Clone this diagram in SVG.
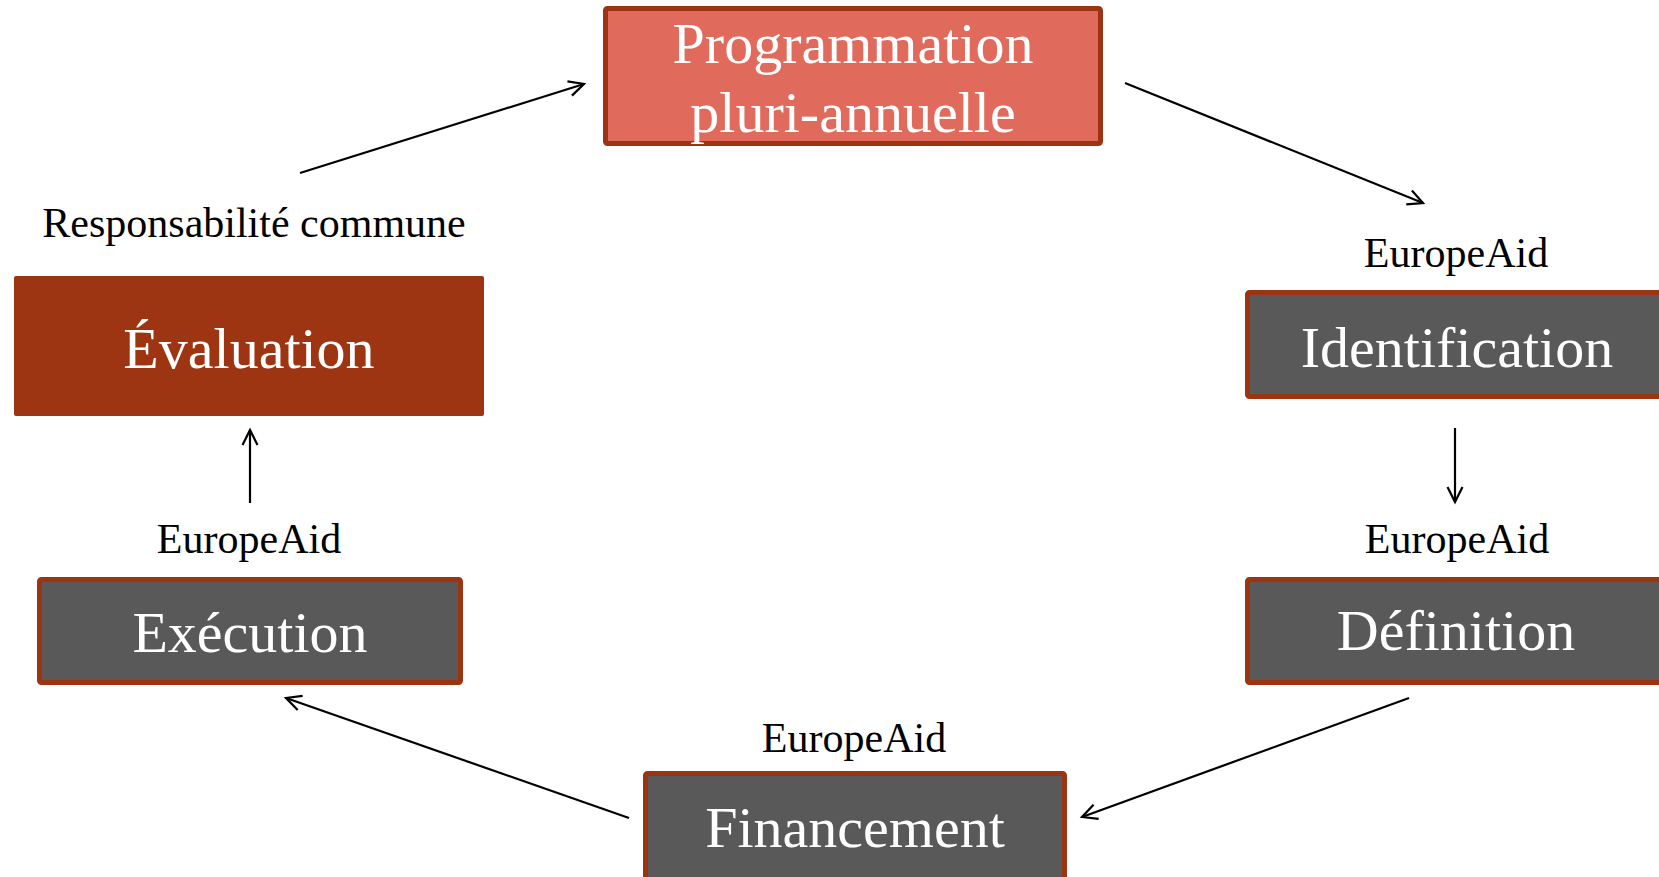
<svg xmlns="http://www.w3.org/2000/svg" width="1659" height="877" viewBox="0 0 1659 877">
<defs>
<marker id="arr" markerUnits="userSpaceOnUse" markerWidth="30" markerHeight="30" viewBox="-20 -15 30 30" refX="0" refY="0" orient="auto">
<path d="M -15 -7.5 L 0 0 L -15 7.5" fill="none" stroke="#000" stroke-width="2.2"/>
</marker>
</defs>
<style>
.box{stroke:#9C3412;stroke-width:5}
.grey{fill:#595959}
.big{font-family:"Liberation Serif","Times New Roman",serif;font-size:58px;fill:#fff;text-anchor:middle}
.lbl{font-family:"Liberation Serif","Times New Roman",serif;font-size:42px;fill:#000;text-anchor:middle}
.conn{stroke:#000;stroke-width:2.2;fill:none;marker-end:url(#arr)}
</style>
<rect width="1659" height="877" fill="#fff"/>
<g id="programmation">
<rect class="box" x="605.5" y="8.5" width="495" height="135" rx="2" fill="#E06B5D"/>
<text class="big" x="853" y="63">Programmation</text>
<text class="big" x="853" y="132">pluri-annuelle</text>
</g>
<g id="identification">
<text class="lbl" x="1456" y="267">EuropeAid</text>
<rect class="box grey" x="1247.5" y="292.5" width="430" height="104" rx="2"/>
<text class="big" x="1457" y="367">Identification</text>
</g>
<g id="definition">
<text class="lbl" x="1457" y="553">EuropeAid</text>
<rect class="box grey" x="1247.5" y="579.5" width="430" height="103" rx="2"/>
<text class="big" x="1456" y="650">Définition</text>
</g>
<g id="financement">
<text class="lbl" x="854" y="752">EuropeAid</text>
<rect class="box grey" x="645.5" y="773.5" width="419" height="120" rx="2"/>
<text class="big" x="855" y="847">Financement</text>
</g>
<g id="execution">
<text class="lbl" x="249" y="553">EuropeAid</text>
<rect class="box grey" x="39.5" y="579.5" width="421" height="103" rx="2"/>
<text class="big" x="250" y="652">Exécution</text>
</g>
<g id="evaluation">
<text class="lbl" x="254" y="237">Responsabilité commune</text>
<rect x="14" y="276" width="470" height="140" rx="2" fill="#9D3513"/>
<text class="big" x="249" y="368">Évaluation</text>
</g>
<g id="connectors">
<line class="conn" x1="300" y1="173" x2="584" y2="84"/>
<line class="conn" x1="1125" y1="83" x2="1423" y2="203"/>
<line class="conn" x1="1455" y1="428" x2="1455" y2="502"/>
<line class="conn" x1="1409" y1="698" x2="1082" y2="817"/>
<line class="conn" x1="629" y1="818" x2="286" y2="698"/>
<line class="conn" x1="250" y1="503" x2="250" y2="430"/>
</g>
</svg>
